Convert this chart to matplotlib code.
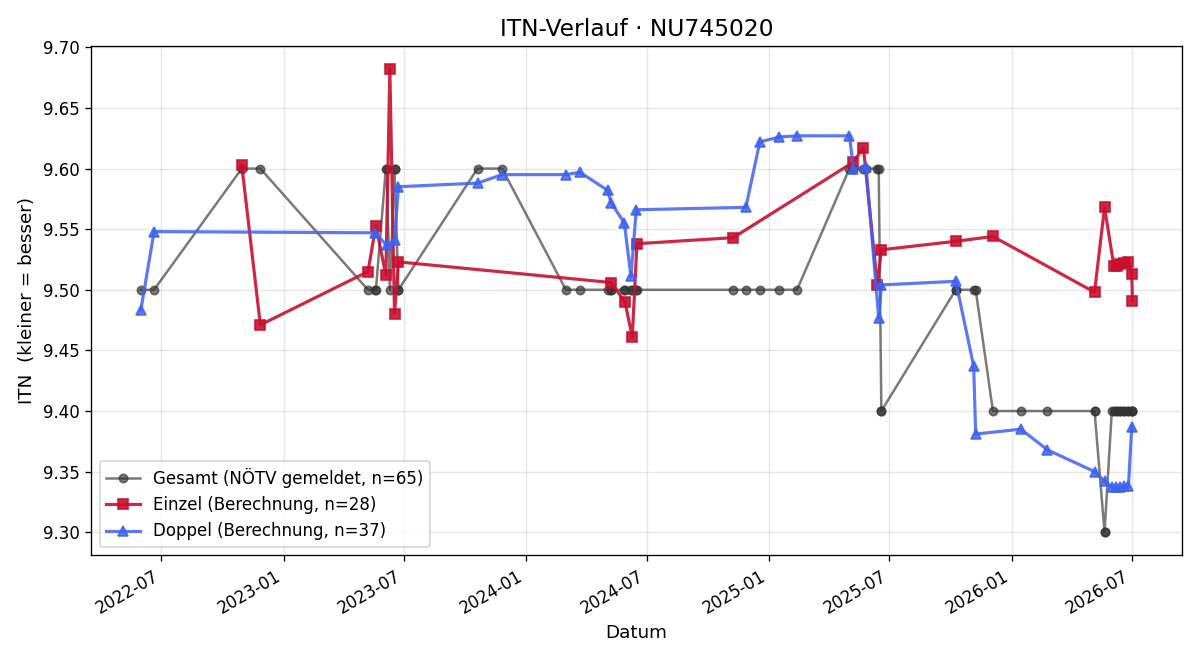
import matplotlib
matplotlib.use("Agg")
from matplotlib import pyplot as plt
import matplotlib.dates as mdates
import numpy as np

# Gesamt (NÖTV gemeldet)
gesamt_dates = [
    "2022-05-31", "2022-06-20", "2022-10-30", "2022-11-27",
    "2023-05-08", "2023-05-18", "2023-05-20", "2023-06-04", "2023-06-05",
    "2023-06-10", "2023-06-17", "2023-06-17", "2023-06-23", "2023-06-23",
    "2023-10-20", "2023-11-26",
    "2024-03-01", "2024-03-22", "2024-05-03", "2024-05-08", "2024-05-08",
    "2024-05-28", "2024-05-29", "2024-06-07", "2024-06-09", "2024-06-15",
    "2024-06-16",
    "2024-11-08", "2024-11-27", "2024-12-18", "2025-01-16", "2025-02-12",
    "2025-05-02", "2025-05-07", "2025-05-08", "2025-05-23", "2025-05-27",
    "2025-06-13", "2025-06-15", "2025-06-19", "2025-06-19",
    "2025-10-09", "2025-10-09", "2025-11-05", "2025-11-08", "2025-12-04",
    "2026-01-15", "2026-02-24",
    "2026-05-06", "2026-05-06", "2026-05-21", "2026-05-21",
    "2026-06-01", "2026-06-04", "2026-06-07", "2026-06-09", "2026-06-13",
    "2026-06-14", "2026-06-19", "2026-06-19", "2026-06-26", "2026-06-26",
    "2026-07-01", "2026-07-01", "2026-07-02",
]
gesamt_itn = [
    9.5, 9.5, 9.6, 9.6,
    9.5, 9.5, 9.5, 9.6, 9.6,
    9.5, 9.6, 9.6, 9.5, 9.5,
    9.6, 9.6,
    9.5, 9.5, 9.5, 9.5, 9.5,
    9.5, 9.5, 9.5, 9.5, 9.5,
    9.5,
    9.5, 9.5, 9.5, 9.5, 9.5,
    9.6, 9.6, 9.6, 9.6, 9.6,
    9.6, 9.6, 9.4, 9.4,
    9.5, 9.5, 9.5, 9.5, 9.4,
    9.4, 9.4,
    9.4, 9.4, 9.3, 9.3,
    9.4, 9.4, 9.4, 9.4, 9.4,
    9.4, 9.4, 9.4, 9.4, 9.4,
    9.4, 9.4, 9.4,
]

# Einzel (Berechnung)
einzel_dates = [
    "2022-10-30", "2022-11-27", "2023-05-08", "2023-05-20", "2023-06-04",
    "2023-06-10", "2023-06-17", "2023-06-23", "2024-05-08", "2024-05-29",
    "2024-06-09", "2024-06-16", "2024-11-08", "2025-05-07", "2025-05-23",
    "2025-06-13", "2025-06-19", "2025-10-09", "2025-12-04", "2026-05-06",
    "2026-05-21", "2026-06-04", "2026-06-09", "2026-06-14", "2026-06-19",
    "2026-06-26", "2026-07-01", "2026-07-02",
]
einzel_itn = [
    9.603, 9.471, 9.515, 9.553, 9.512,
    9.682, 9.480, 9.523, 9.506, 9.490,
    9.461, 9.538, 9.543, 9.605, 9.617,
    9.504, 9.533, 9.540, 9.544, 9.498,
    9.568, 9.520, 9.520, 9.521, 9.522,
    9.523, 9.513, 9.491,
]

# Doppel (Berechnung)
doppel_dates = [
    "2022-05-31", "2022-06-20", "2023-05-18", "2023-06-05", "2023-06-17",
    "2023-06-23", "2023-10-20", "2023-11-26", "2024-03-01", "2024-03-22",
    "2024-05-03", "2024-05-08", "2024-05-28", "2024-06-07", "2024-06-15",
    "2024-11-27", "2024-12-18", "2025-01-16", "2025-02-12", "2025-05-02",
    "2025-05-08", "2025-05-27", "2025-06-15", "2025-06-19", "2025-10-09",
    "2025-11-05", "2025-11-08", "2026-01-15", "2026-02-24", "2026-05-06",
    "2026-05-21", "2026-06-01", "2026-06-07", "2026-06-13", "2026-06-19",
    "2026-06-26", "2026-07-01",
]
doppel_itn = [
    9.483, 9.548, 9.547, 9.537, 9.541,
    9.585, 9.588, 9.595, 9.595, 9.597,
    9.582, 9.572, 9.555, 9.511, 9.566,
    9.568, 9.622, 9.626, 9.627, 9.627,
    9.600, 9.601, 9.477, 9.504, 9.507,
    9.437, 9.381, 9.385, 9.368, 9.350,
    9.342, 9.337, 9.337, 9.337, 9.338,
    9.338, 9.387,
]

g_x = np.array(gesamt_dates, dtype="datetime64[D]")
e_x = np.array(einzel_dates, dtype="datetime64[D]")
d_x = np.array(doppel_dates, dtype="datetime64[D]")

fig, ax = plt.subplots(figsize=(10, 5.5), dpi=120)

ax.plot(g_x, gesamt_itn, color="#333333", alpha=0.65, marker="o",
        markersize=5, linewidth=1.5,
        label="Gesamt (NÖTV gemeldet, n=%d)" % len(gesamt_itn))
ax.plot(e_x, einzel_itn, color="#c8102e", alpha=0.9, marker="s",
        markersize=6, linewidth=1.9,
        label="Einzel (Berechnung, n=%d)" % len(einzel_itn))
ax.plot(d_x, doppel_itn, color="#3d62f2", alpha=0.85, marker="^",
        markersize=6, linewidth=1.9,
        label="Doppel (Berechnung, n=%d)" % len(doppel_itn))

ax.set_title("ITN-Verlauf · NU745020", fontsize=14)
ax.set_xlabel("Datum", fontsize=11)
ax.set_ylabel("ITN  (kleiner = besser)", fontsize=11)
ax.yaxis.set_major_formatter(plt.FormatStrFormatter("%.2f"))
ax.xaxis.set_major_locator(mdates.MonthLocator(bymonth=(1, 7)))
ax.xaxis.set_major_formatter(mdates.DateFormatter("%Y-%m"))
ax.grid(True, alpha=0.3)
ax.legend(loc="lower left", fontsize=10)
fig.autofmt_xdate()
fig.tight_layout()

plt.savefig("out.png", dpi=120)
plt.close()
